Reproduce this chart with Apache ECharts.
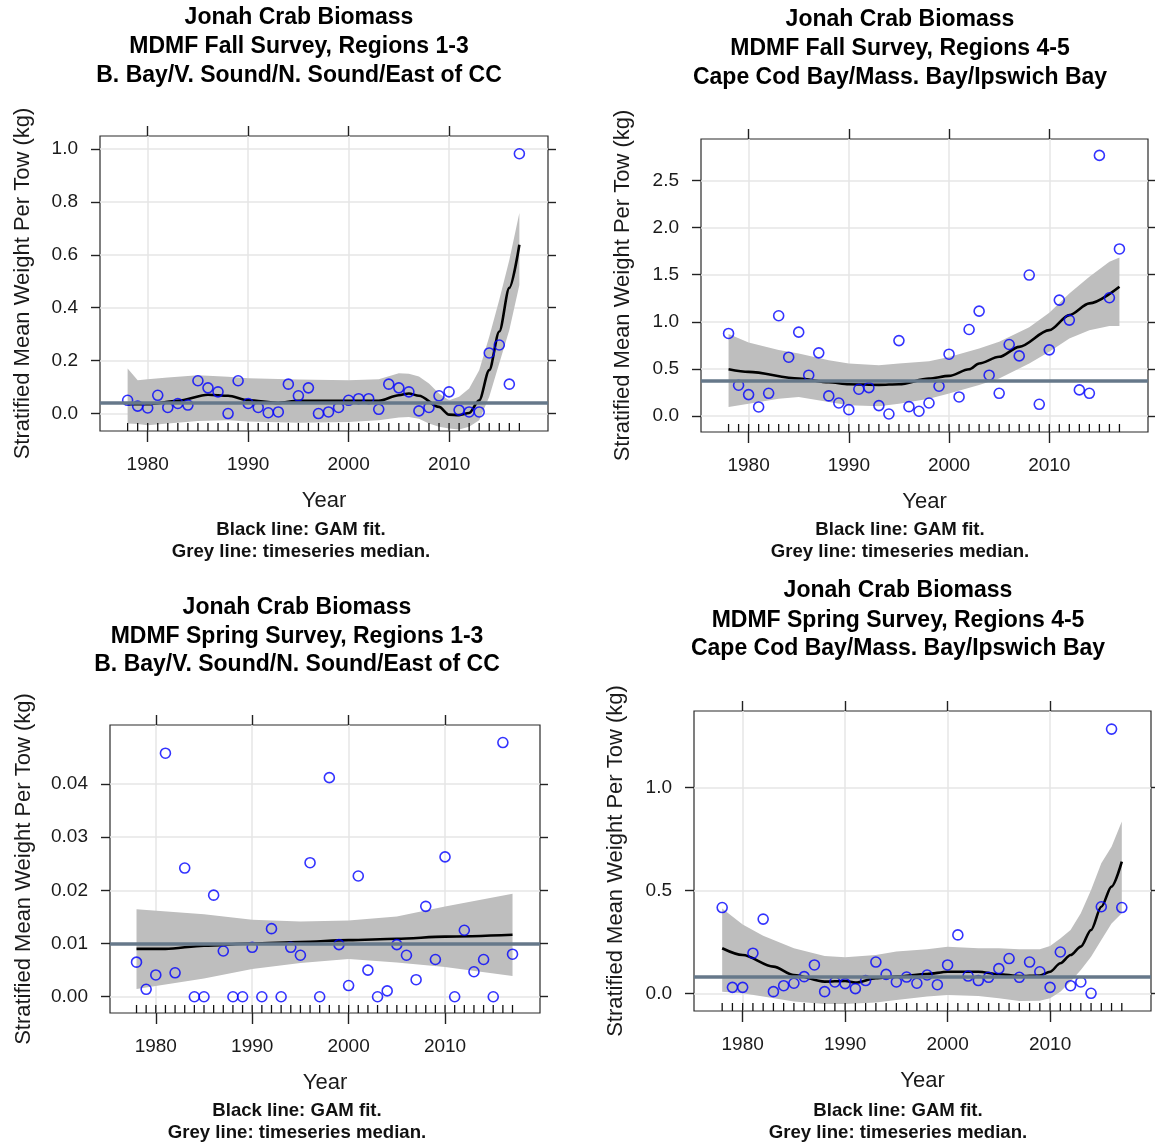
<!DOCTYPE html>
<html><head><meta charset="utf-8">
<script src="https://cdn.jsdelivr.net/npm/echarts@6/dist/echarts.min.js"></script>
<style>html,body{margin:0;padding:0;background:#fff}#c{width:1155px;height:1147px}</style>
</head><body><div id="c"></div>
<script>
// ---------------- DATA ----------------
const years = [1978,1979,1980,1981,1982,1983,1984,1985,1986,1987,1988,1989,1990,1991,1992,1993,1994,1995,1996,1997,1998,1999,2000,2001,2002,2003,2004,2005,2006,2007,2008,2009,2010,2011,2012,2013,2014,2015,2016,2017];
const xTicks = [1980, 1990, 2000, 2010];

// Panel 1: Fall survey, regions 1-3
const fallR13 = [0.05,0.028,0.021,0.069,0.023,0.038,0.032,0.124,0.097,0.082,0.0,0.124,0.038,0.023,0.003,0.006,0.111,0.067,0.097,0.0,0.006,0.023,0.05,0.056,0.056,0.016,0.111,0.097,0.082,0.01,0.023,0.067,0.082,0.013,0.006,0.006,0.229,0.259,0.111,0.982];
const fallR13Median = 0.045;
const fallR13GamYears = [1978,1980,1983,1986,1988,1990,1993,1995,2000,2003,2005,2006,2007,2009,2010,2011,2012,2013,2014,2015,2016,2017];
const fallR13Gam = [0.035,0.035,0.048,0.071,0.067,0.05,0.04,0.048,0.048,0.048,0.069,0.076,0.067,0.025,-0.004,-0.006,0.002,0.05,0.164,0.31,0.475,0.638];
const fallR13BandYears = [1978,1979,1980,1982,1985,1988,1990,1995,2000,2003,2005,2006,2007,2008,2009,2010,2011,2012,2013,2014,2015,2016,2017];
const fallR13BandHi = [0.17,0.126,0.13,0.136,0.145,0.139,0.133,0.129,0.126,0.13,0.152,0.15,0.14,0.114,0.076,0.05,0.063,0.095,0.164,0.29,0.43,0.58,0.758];
const fallR13BandLo = [-0.038,-0.04,-0.044,-0.038,-0.028,-0.025,-0.03,-0.035,-0.032,-0.025,-0.015,-0.013,-0.02,-0.038,-0.05,-0.057,-0.06,-0.05,-0.025,0.063,0.19,0.316,0.486];
const fallR13YTicks = [0, 0.2, 0.4, 0.6, 0.8, 1.0];

// Panel 2: Fall survey, regions 4-5
const fallR45 = [0.876,0.326,0.227,0.096,0.241,1.064,0.624,0.89,0.433,0.67,0.213,0.138,0.067,0.284,0.301,0.11,0.021,0.80,0.099,0.05,0.138,0.316,0.656,0.202,0.918,1.113,0.433,0.241,0.759,0.638,1.496,0.124,0.702,1.23,1.018,0.277,0.241,2.766,1.255,1.773];
const fallR45Median = 0.369;
const fallR45GamYears = [1978,1980,1985,1988,1990,1993,1995,1998,2000,2002,2003,2005,2007,2010,2012,2014,2017];
const fallR45Gam = [0.496,0.468,0.397,0.358,0.337,0.33,0.337,0.397,0.426,0.496,0.557,0.628,0.734,0.911,1.071,1.195,1.372];
const fallR45BandYears = [1978,1980,1983,1985,1988,1990,1993,1995,1998,2000,2003,2005,2008,2010,2012,2014,2016,2017];
const fallR45BandHi = [0.869,0.78,0.70,0.663,0.592,0.557,0.539,0.557,0.58,0.627,0.716,0.787,0.943,1.096,1.30,1.479,1.638,1.681];
const fallR45BandLo = [0.096,0.131,0.184,0.202,0.149,0.113,0.103,0.131,0.184,0.238,0.33,0.397,0.557,0.681,0.823,0.911,0.954,0.954];
const fallR45YTicks = [0, 0.5, 1.0, 1.5, 2.0, 2.5];

// Panel 3: Spring survey, regions 1-3
const springR13 = [0.0065,0.0014,0.0041,0.0458,0.0045,0.0242,0,0,0.0191,0.0086,0,0,0.0093,0,0.0128,0,0.0093,0.0078,0.0252,0,0.0412,0.0098,0.0021,0.0227,0.0050,0,0.0011,0.0098,0.0078,0.0032,0.0170,0.0070,0.0263,0,0.0125,0.0047,0.0070,0,0.0478,0.0080];
const springR13Median = 0.00695;
const springR13GamYears = [1978,1981,1985,1990,1995,2000,2005,2010,2017];
const springR13Gam = [0.0090,0.0090,0.0096,0.0100,0.0103,0.01065,0.0109,0.0113,0.01165];
const springR13BandYears = [1978,1985,1990,1995,2000,2005,2010,2017];
const springR13BandHi = [0.01647,0.01553,0.01446,0.01415,0.01434,0.01509,0.01697,0.01935];
const springR13BandLo = [0.00144,0.00344,0.0052,0.00632,0.00708,0.00645,0.00557,0.0039];
const springR13YTicks = [0, 0.01, 0.02, 0.03, 0.04];

// Panel 4: Spring survey, regions 4-5
const springR45 = [0.417,0.029,0.029,0.195,0.361,0.008,0.037,0.049,0.081,0.138,0.008,0.055,0.047,0.023,0.062,0.152,0.092,0.055,0.079,0.049,0.089,0.042,0.138,0.284,0.084,0.062,0.078,0.12,0.169,0.078,0.152,0.105,0.029,0.201,0.037,0.055,0.0,0.421,1.285,0.417];
const springR45Median = 0.0762;
const springR45GamYears = [1978,1980,1983,1985,1988,1990,1991,1993,1995,1998,2000,2003,2005,2007,2009,2010,2011,2012,2013,2014,2015,2016,2017];
const springR45Gam = [0.219,0.186,0.13,0.089,0.057,0.06,0.052,0.073,0.081,0.094,0.105,0.105,0.093,0.084,0.087,0.105,0.146,0.186,0.227,0.308,0.421,0.519,0.64];
const springR45BandYears = [1978,1980,1982,1985,1988,1990,1993,1995,1998,2000,2003,2005,2007,2009,2010,2011,2012,2013,2014,2015,2016,2017];
const springR45BandHi = [0.413,0.335,0.28,0.219,0.182,0.175,0.186,0.203,0.214,0.227,0.219,0.219,0.214,0.214,0.23,0.267,0.308,0.389,0.502,0.632,0.713,0.835];
const springR45BandLo = [0.008,0.0,-0.016,-0.04,-0.052,-0.052,-0.045,-0.032,-0.016,-0.008,-0.013,-0.024,-0.037,-0.036,-0.024,0.008,0.057,0.113,0.178,0.259,0.34,0.389];
const springR45YTicks = [0, 0.5, 1.0];

// Texts
const titleLines = [
  ['Jonah Crab Biomass','MDMF Fall Survey, Regions 1-3','B. Bay/V. Sound/N. Sound/East of CC'],
  ['Jonah Crab Biomass','MDMF Fall Survey, Regions 4-5','Cape Cod Bay/Mass. Bay/Ipswich Bay'],
  ['Jonah Crab Biomass','MDMF Spring Survey, Regions 1-3','B. Bay/V. Sound/N. Sound/East of CC'],
  ['Jonah Crab Biomass','MDMF Spring Survey, Regions 4-5','Cape Cod Bay/Mass. Bay/Ipswich Bay']
];
const noteLines = ['Black line: GAM fit.', 'Grey line: timeseries median.'];
const xName = 'Year';
const yName = 'Stratified Mean Weight Per Tow (kg)';

// ---------------- LAYOUT ----------------
const FONT = "'Liberation Sans', Arial, Helvetica, sans-serif";
const panels = [
  {grid:{left:100,top:136,width:448,height:295}, xMin:1975.25, xMax:2019.85, yMin:-0.066, yMax:1.049, dec:1, nameGap:66,
   pts:fallR13, med:fallR13Median, gy:fallR13GamYears, g:fallR13Gam, by:fallR13BandYears, bh:fallR13BandHi, bl:fallR13BandLo, yt:fallR13YTicks,
   titleX:299, titleY:[18,47,76], noteX:301, noteY:[530,552]},
  {grid:{left:701,top:139,width:447,height:293}, xMin:1975.25, xMax:2019.85, yMin:-0.17, yMax:2.94, dec:1, nameGap:67,
   pts:fallR45, med:fallR45Median, gy:fallR45GamYears, g:fallR45Gam, by:fallR45BandYears, bh:fallR45BandHi, bl:fallR45BandLo, yt:fallR45YTicks,
   titleX:900, titleY:[20,49,78], noteX:900, noteY:[530,552]},
  {grid:{left:110,top:725,width:430,height:288}, xMin:1975.25, xMax:2019.85, yMin:-0.00306, yMax:0.0511, dec:2, nameGap:75,
   pts:springR13, med:springR13Median, gy:springR13GamYears, g:springR13Gam, by:springR13BandYears, bh:springR13BandHi, bl:springR13BandLo, yt:springR13YTicks,
   titleX:297, titleY:[608,637,665], noteX:297, noteY:[1111,1133]},
  {grid:{left:694,top:711,width:457,height:300}, xMin:1975.25, xMax:2019.85, yMin:-0.086, yMax:1.373, dec:1, nameGap:67,
   pts:springR45, med:springR45Median, gy:springR45GamYears, g:springR45Gam, by:springR45BandYears, bh:springR45BandHi, bl:springR45BandLo, yt:springR45YTicks,
   titleX:898, titleY:[591,621,649], noteX:898, noteY:[1111,1133]}
];

const grids = [], xAxes = [], yAxes = [], series = [], graphics = [];
const tickColor = '#222', labelColor = '#1a1a1a', gridColor = '#e6e6e6';
const noLine = {show:false, onZero:false};
const tickLine = {color:tickColor, width:1.4};

panels.forEach((p, i) => {
  grids.push(Object.assign({show:true, borderColor:'#2a2a2a', borderWidth:1.2, backgroundColor:'rgba(0,0,0,0)'}, p.grid));
  // bottom x
  xAxes.push({type:'value', gridIndex:i, position:'bottom', min:p.xMin, max:p.xMax,
    axisLine:noLine,
    axisTick:{show:true, inside:false, length:11, customValues:xTicks, lineStyle:tickLine},
    axisLabel:{show:true, customValues:xTicks, margin:24, fontSize:19, color:labelColor, fontFamily:FONT, formatter:v=>String(v)},
    splitLine:{show:true, lineStyle:{color:gridColor, width:1.5}},
    name:xName, nameLocation:'middle', nameGap:59, nameTextStyle:{fontSize:22, color:'#1a1a1a', fontFamily:FONT}
  });
  // top x
  xAxes.push({type:'value', gridIndex:i, position:'top', min:p.xMin, max:p.xMax,
    axisLine:noLine,
    axisTick:{show:true, inside:false, length:10, customValues:xTicks, lineStyle:tickLine},
    axisLabel:{show:false, customValues:xTicks}, splitLine:{show:false}
  });
  // left y
  yAxes.push({type:'value', gridIndex:i, position:'left', min:p.yMin, max:p.yMax,
    axisLine:noLine,
    axisTick:{show:true, inside:false, length:9, customValues:p.yt, lineStyle:tickLine},
    axisLabel:{show:true, customValues:p.yt, margin:22, fontSize:19, color:labelColor, fontFamily:FONT, formatter:v=>Number(v).toFixed(p.dec)},
    splitLine:{show:true, lineStyle:{color:gridColor, width:1.5}},
    name:yName, nameLocation:'middle', nameGap:p.nameGap, nameTextStyle:{fontSize:22, color:'#1a1a1a', fontFamily:FONT}
  });
  // right y
  yAxes.push({type:'value', gridIndex:i, position:'right', min:p.yMin, max:p.yMax,
    axisLine:noLine,
    axisTick:{show:true, inside:false, length:8, customValues:p.yt, lineStyle:tickLine},
    axisLabel:{show:false, customValues:p.yt}, splitLine:{show:false}
  });

  const xi = i*2, yi = i*2;
  const by = p.by, bh = p.bh, bl = p.bl;
  // confidence band
  series.push({type:'custom', xAxisIndex:xi, yAxisIndex:yi, z:1, silent:true,
    data: by.map((y,k)=>[y, bl[k], bh[k]]),
    encode:{x:0, y:[1,2]},
    renderItem:function(params, api){
      if (params.dataIndex !== 0) return null;
      const up = by.map((y,k)=>api.coord([y, bh[k]]));
      const dn = by.map((y,k)=>api.coord([y, bl[k]])).reverse();
      return {type:'polygon', shape:{points: up.concat(dn)}, style:{fill:'#bebebe', stroke:null}};
    }
  });
  // rug
  const pts = p.pts;
  series.push({type:'custom', xAxisIndex:xi, yAxisIndex:yi, z:2, silent:true,
    data: years.map((y,k)=>[y, pts[k]]),
    encode:{x:0, y:1},
    renderItem:function(params, api){
      const x = api.coord([api.value(0), api.value(1)])[0];
      const cs = params.coordSys;
      const b = cs.y + cs.height;
      return {type:'line', shape:{x1:x, y1:b, x2:x, y2:b-8}, style:{stroke:'#111', lineWidth:1.3}};
    }
  });
  // GAM fit + median line
  series.push({type:'line', xAxisIndex:xi, yAxisIndex:yi, z:3, silent:true,
    data: p.gy.map((y,k)=>[y, p.g[k]]),
    symbol:'none', smooth:0.3, smoothMonotone:'x',
    lineStyle:{color:'#000', width:2.6},
    markLine:{silent:true, symbol:['none','none'], label:{show:false},
      lineStyle:{color:'#66788a', width:3.5, type:'solid'},
      data:[{yAxis:p.med}]}
  });
  // observed points
  series.push({type:'scatter', xAxisIndex:xi, yAxisIndex:yi, z:4, silent:true,
    data: years.map((y,k)=>[y, pts[k]]),
    symbol:'circle', symbolSize:10,
    itemStyle:{color:'rgba(0,0,0,0)', borderColor:'#0000ff', borderWidth:1.6}
  });

  // titles
  titleLines[i].forEach((t, k) => {
    graphics.push({type:'text', x:p.titleX, y:p.titleY[k], silent:true,
      style:{text:t, fill:'#000', font:'bold 23px ' + FONT, align:'center', verticalAlign:'middle'}});
  });
  noteLines.forEach((t, k) => {
    graphics.push({type:'text', x:p.noteX, y:p.noteY[k], silent:true,
      style:{text:t, fill:'#111', font:'bold 18.6px ' + FONT, align:'center', verticalAlign:'middle'}});
  });
});

const chart = echarts.init(document.getElementById('c'), null, {renderer:'canvas'});
chart.setOption({
  animation:false,
  backgroundColor:'#fff',
  grid:grids, xAxis:xAxes, yAxis:yAxes, series:series, graphic:graphics
});
</script>
</body></html>
